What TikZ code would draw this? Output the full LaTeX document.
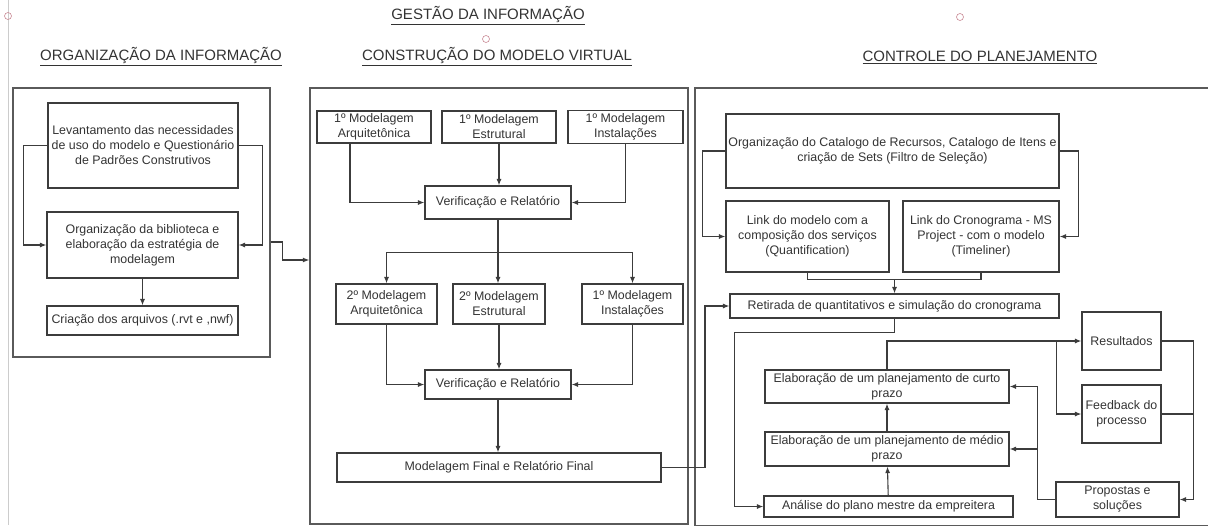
\documentclass[tikz,border=0pt]{standalone}
\usepackage{fontspec}
\setmainfont{Liberation Sans}
\usetikzlibrary{arrows.meta,calc}

\definecolor{txtC}{HTML}{333333}
\definecolor{lnC}{HTML}{3C3C3C}
\definecolor{pnC}{HTML}{5A5A5A}
\definecolor{dotC}{HTML}{C98A95}

\tikzstyle{bx}=[rectangle,draw=lnC,line width=1.1pt,inner sep=0pt,text=txtC,align=center,font=\fontsize{12.4}{15}\selectfont]
\tikzstyle{pnl}=[rectangle,draw=pnC,line width=1.4pt,inner sep=0pt]
\tikzstyle{ttl}=[inner sep=0pt,text=txtC,font=\fontsize{15}{17}\selectfont]
\tikzstyle{arr}=[draw=lnC,line width=1.1pt,-{Latex[length=6.5pt,width=5pt]}]
\tikzstyle{ln}=[draw=lnC,line width=1.1pt]
\tikzstyle{hnd}=[draw=dotC,line width=0.6pt]

\begin{document}
\begin{tikzpicture}[x=1pt,y=-1pt]
    \useasboundingbox (0,0) rectangle (1208,525);
    \draw[draw=gray!40,line width=0.8pt] (8,0) -- (8,525);
    \draw[hnd] (8,16) circle (3.5pt);
    \draw[hnd] (486,39) circle (3.5pt);
    \draw[hnd] (960,17) circle (3.5pt);

    % titles
    \draw (488,16) node[ttl] (tGes) {\underline{GESTÃO DA INFORMAÇÃO}};
    \draw (161,57) node[ttl] (tOrg) {\underline{ORGANIZAÇÃO DA INFORMAÇÃO}};
    \draw (497,57) node[ttl] (tMod) {\underline{CONSTRUÇÃO DO MODELO VIRTUAL}};
    \draw (980,57) node[ttl] (tCtl) {\underline{CONTROLE DO PLANEJAMENTO}};

    % panels
    \draw (141.5,222.5) node[pnl,minimum width=257pt,minimum height=269pt] (pOrg) {};
    \draw (499,306) node[pnl,minimum width=378pt,minimum height=436pt] (pMod) {};
    \draw (962.5,307) node[pnl,minimum width=535pt,minimum height=438pt] (pCtl) {};

    % organizacao
    \draw (143,145.5) node[bx,minimum width=190pt,minimum height=85pt] (lev) {Levantamento das necessidades\\de uso do modelo e Questionário\\de Padrões Construtivos};
    \draw (142.5,245) node[bx,minimum width=191pt,minimum height=66pt] (orgbib) {Organização da biblioteca e\\elaboração da estratégia de\\modelagem};
    \draw (142.5,320.5) node[bx,minimum width=191pt,minimum height=29pt] (cria) {Criação dos arquivos (.rvt e ,nwf)};

    % modelo virtual
    \draw (374,127) node[bx,minimum width=114pt,minimum height=32pt] (m1a) {1º Modelagem\\Arquitetônica};
    \draw (499,127) node[bx,minimum width=114pt,minimum height=32pt] (m1e) {1º Modelagem\\Estrutural};
    \draw (625.5,127) node[bx,minimum width=115pt,minimum height=33pt] (m1i) {1º Modelagem\\Instalações};
    \draw (498,202.5) node[bx,minimum width=146pt,minimum height=33pt] (ver1) {Verificação e Relatório};
    \draw (386.5,304) node[bx,minimum width=101pt,minimum height=40pt] (m2a) {2º Modelagem\\Arquitetônica};
    \draw (499,304) node[bx,minimum width=92pt,minimum height=40pt] (m2e) {2º Modelagem\\Estrutural};
    \draw (632.5,304) node[bx,minimum width=101pt,minimum height=40pt] (m2i) {1º Modelagem\\Instalações};
    \draw (498,384.5) node[bx,minimum width=146pt,minimum height=29pt] (ver2) {Verificação e Relatório};
    \draw (499,467.5) node[bx,minimum width=324pt,minimum height=29pt] (fin) {Modelagem Final e Relatório Final};

    % controle
    \draw (892.5,151) node[bx,minimum width=333pt,minimum height=74pt] (cat) {Organização do Catalogo de Recursos, Catalogo de Itens e\\criação de Sets (Filtro de Seleção)};
    \draw (807.5,236.5) node[bx,minimum width=163pt,minimum height=71pt] (lmod) {Link do modelo com a\\composição dos serviços\\(Quantification)};
    \draw (981,236.5) node[bx,minimum width=156pt,minimum height=71pt] (lcro) {Link do Cronograma - MS\\Project - com o modelo\\(Timeliner)};
    \draw (894.5,306) node[bx,minimum width=329pt,minimum height=24pt] (ret) {Retirada de quantitativos e simulação do cronograma};
    \draw (887,386.5) node[bx,minimum width=244pt,minimum height=33pt] (cur) {Elaboração de um planejamento de curto\\prazo};
    \draw (887,449) node[bx,minimum width=244pt,minimum height=34pt] (med) {Elaboração de um planejamento de médio\\prazo};
    \draw (888.5,506.5) node[bx,minimum width=249pt,minimum height=21pt] (ana) {Análise do plano mestre da empreitera};
    \draw (1121.5,341) node[bx,minimum width=79pt,minimum height=58pt] (res) {Resultados};
    \draw (1121.5,414) node[bx,minimum width=79pt,minimum height=58pt] (fee) {Feedback do\\processo};
    \draw (1117.5,499.5) node[bx,minimum width=123pt,minimum height=35pt] (pro) {Propostas e\\soluções};

    \draw[arr] (lev.west) -- ++(-24,0) |- (orgbib.west);
    \draw[arr] (lev.east) -- ++(24,0) |- (orgbib.east);
    \draw[arr] (orgbib) -- (cria);
    \draw[arr] ([yshift=-19.5pt]pOrg.east) -- ++(12,0) |- (pMod.west |- 0,260);

    \draw[arr] ([xshift=-24pt]m1a.south) |- (ver1.west);
    \draw[arr] (m1e.south) -- (m1e.south |- ver1.north);
    \draw[arr] (m1i.south) |- (ver1.east);
    \draw[ln] (ver1.south) -- ++(0,33) coordinate (jv);
    \draw[arr] (jv) -| (m2a.north);
    \draw[arr] (jv) -| (m2i.north);
    \draw[arr] (jv) -- (jv |- m2e.north);
    \draw[arr] (m2a.south) |- (ver2.west);
    \draw[arr] (m2e.south) -- (m2e.south |- ver2.north);
    \draw[arr] (m2i.south) |- (ver2.east);
    \draw[arr] (ver2.south) -- (ver2.south |- fin.north);
    \draw[arr] (fin.east) -- (705,467.5) |- (ret.west);

    \draw[arr] (cat.west) -- ++(-23,0) |- (lmod.west);
    \draw[arr] (cat.east) -- ++(19,0) |- (lcro.east);
    \draw[ln] (lmod.south) -- ++(0,7) coordinate (jq) -| (lcro.south);
    \draw[arr] (jq -| ret.north) -- (ret.north);
    \draw[arr] (ret.south) -- ++(0,14) -| ($(ana.west)+(-29,0)$) -- (ana.west);
    \draw[arr] (ana) -- (med);
    \draw[arr] (med) -- (cur);
    \draw[arr] (cur.north) |- (res.west);
    \draw[arr] ($(res.west)+(-25,0)$) |- (fee.west);
    \draw[arr] (res.east) -- ++(32,0) |- (pro.east);
    \draw[ln] (fee.east) -- ++(32,0);
    \draw[arr] (pro.west) -- ++(-18,0) |- (med.east);
    \draw[arr] (pro.west) -- ++(-18,0) |- (cur.east);
\end{tikzpicture}
\end{document}
